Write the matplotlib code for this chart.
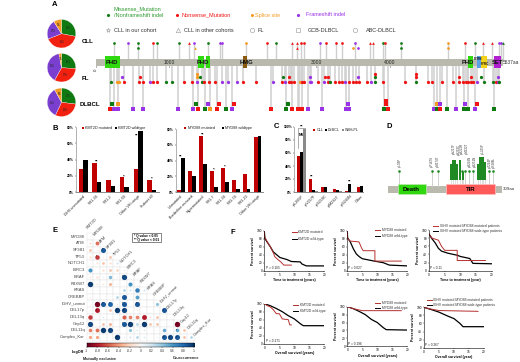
import numpy as np
import matplotlib
matplotlib.use('Agg')
import matplotlib.pyplot as plt
from matplotlib.patches import Rectangle

plt.rcParams['font.family'] = ['Liberation Sans', 'DejaVu Sans']

# ---------- data ----------
pie_names = ['CLL', 'FL', 'DLBCL']
pie_cll = [28, 41, 22, 9]
pie_fl = [26, 32, 39, 3]
pie_dlbcl = [27, 30, 35, 8]

cll_pos = [240, 431, 571, 780, 830, 1125, 1270, 1338, 1528, 1687, 1710, 2036, 2322, 2449, 2671, 2730, 2794,
           2830, 3043, 3134, 3270, 3351, 3524, 3723, 3769, 3900, 3927, 4150, 4794, 5020, 5156, 5270, 5383,
           5483, 5515, 5535]
cll_type = list('gpgrgg') + list('rpgppo') + list('rgrrrr') + list('prrrpr') + list('rgrgor') + list('grrppg')
cll_mark = list('oooooo') + list('^ooooo') + list('oo^^oo') + list('ooooo^') + list('^ooooo') + list('o^^oo^')
cll2_pos = [571, 1347, 2730, 3501, 3560, 4150, 4794]
cll2_type = list('gorop') + list('go')
cll2_mark = list('o^^oo') + list('oo')

fl_pos = [209, 290, 317, 385, 590, 635, 735, 771, 825, 957, 1039, 1193, 1306, 1379, 1438, 1469, 1537, 1619, 1710,
          1791, 1918, 2005, 2172, 2408, 2526, 2571, 2630, 2653, 2694, 2771, 2798, 2830, 2907, 2925, 3025, 3102,
          3156, 3188, 3256, 3311, 3342, 3388, 3447, 3492, 3537, 3583, 3692, 3737, 3796, 3900, 4204, 4354, 4513,
          4572, 4712, 4857, 4939, 4998, 5034, 5066, 5102, 5134, 5188, 5279, 5406, 5438, 5470, 5488]
fl_type = list('goorrr') + list('prrggrr') + list('pgrrrpp') + list('prrprpr') + \
          list('rrorrpp') + list('rprgrrr') + list('prrrrrp') + list('grrgrrr') + list('rrrrrrr') + list('pggrpg')
fl2_pos = [354, 599, 1379, 1415, 2549, 2630, 2907, 3116, 3156, 3569, 3796, 4354, 4939, 5102, 5238, 5470]
fl2_type = list('proggrprrpgrrrgp')
fl3_pos = [1379, 3796, 4354]
fl3_type = list('orr')

dl_pos = [190, 245, 295, 503, 639, 1116, 1315, 1383, 1483, 1546, 1646, 1773, 1855, 2385, 2585, 2671, 2744, 2767,
          2798, 2885, 3075, 3401, 3447, 3918, 3968, 4599, 4635, 4685, 4771, 4903, 5002, 5066, 5152, 5411]
dl_type = list('rppppppr') + list('gorgp') + list('rgrrrr') + list('pppp') + list('grpgr') + list('gpggpg')
dl2_pos = [213, 295, 1365, 1519, 1669, 1882, 2612, 3433, 3946, 4635, 4685, 5016, 5179]
dl2_type = list('gogprrgprop') + list('pr')
dl3_pos = [3946]
dl3_type = ['r']

domain_names = ['PHD', 'PHD', 'PHD', 'PHD', 'PHD', 'HMG', 'PHD', 'FYRN', 'FYRC', 'SET']
domain_start = [127, 222, 290, 1383, 1492, 2004, 5061, 5179, 5242, 5410]
domain_end = [214, 281, 327, 1469, 1551, 2058, 5134, 5233, 5324, 5510]

b1_cats = ['IGHV-unmutated', 'VH1-34', 'VH1-2', 'VH1-69', 'Other VH usage', 'Subset #2']
b1_mut = [29, 36, 15, 18, 29, 15]
b1_wt = [39, 12, 7, 6, 75, 2]
b1_sig = ['', '**', '', '*', '**', '*']

b2_cats = ['Unmutated', 'Borderline mutated', 'Hypermutated', 'VH1-7', 'VH1-34', 'VH3-74', 'VH3-23', 'Other VH usage']
b2_mut = [2, 27, 71, 27, 31, 15, 23, 70]
b2_wt = [43, 21, 36, 7, 13, 4, 4, 72]
b2_sig = ['**', '', '**', '*', '*', '', '', '']

c_cats = ['p.L265P', 'p.V217F', 'p.S219C', 'p.M232T', 'p.S243N', 'Other']
c_cll = [56, 20, 8, 5, 1, 8]
c_dlbcl = [62, 3, 8, 3, 13, 10]
c_wm = [97, 2, 0, 1, 0, 0]

d_single_pos = [31, 120, 135, 201, 210, 221, 232, 274, 284]
d_stack_pos = [171, 177, 182, 187, 196, 205, 245, 250, 255, 259, 264]
d_stack_n = [8, 10, 10, 8, 10, 4, 8, 12, 12, 12, 9]
d_label_pos = [31, 120, 135, 178, 193, 201, 213, 222, 235, 258, 276, 287]
d_labels = ['p.L93P', 'p.P147S', 'p.M174T', 'p.V217F', 'p.S219C', 'p.S222R', 'p.M232T', 'p.S243N',
            'p.S251N', 'p.L265P', 'p.T294P', 'p.R288L']

e_rows = ['MYD88', 'ATM', 'SF3B1', 'TP53', 'NOTCH1', 'BIRC3', 'BRAF', 'FBXW7', 'KRAS', 'CREBBP',
          'IGHV_unmut', 'DEL17p', 'DEL13q', 'Gap12', 'DEL11q', 'Complex_Kar']
e_cols = ['KMT2D', 'MYD88', 'ATM', 'SF3B1', 'TP53', 'NOTCH1', 'BIRC3', 'BRAF', 'FBXW7', 'KRAS', 'CREBBP',
          'IGHV_unmut', 'DEL17p', 'DEL13q', 'Gap12', 'DEL11q', 'Complex_Kar']
e_vals = [
    [0],
    [-.18, -.55],
    [-.3, -.1, .85],
    [-.2, -.7, -.1, -.3],
    [-.03, -.15, -.3, -.2, .2],
    [.6, 0, -.2, -.3, -.25, .1],
    [-.15, -.2, .1, .45, -.1, .9, 0],
    [.95, -.15, -.15, -.35, -.1, 0, .6, .02],
    [.05, .05, -.05, -.03, 0, .3, .2, .7, .2],
    [-.1, 0, 0, 0, .3, .85, 0, .55, 0, 0],
    [-.05, -.95, .85, .8, -.1, .85, 0, .85, 0, 0, .4],
    [-.1, -.8, 0, -.3, .95, .9, 0, -.1, 0, 0, .02, .85],
    [-.7, 0, .15, 0, 0, -.6, -.5, -.5, -.8, -.15, -.3, 0, .03],
    [.9, 0, -.3, -.35, 0, .85, .95, .3, .95, -.3, -.3, .05, .03, -.95],
    [-.5, -.55, .95, .9, -.1, 0, .4, .15, .15, 0, .05, .5, .05, .5, -.3],
    [-.4, -.4, 0, 0, .95, .1, .2, .3, .15, 0, .1, .85, .9, .85, -.3, .3],
]
e_sig_rows = [2, 3, 6, 7, 10, 10, 10, 10, 10, 11, 11, 11, 11, 13, 13, 13, 13, 13, 14, 14, 14, 15, 15, 15, 15]
e_sig_cols = [2, 1, 5, 0, 1, 2, 3, 5, 7, 1, 4, 5, 11, 0, 5, 6, 8, 13, 2, 3, 13, 4, 11, 12, 13]
e_sig_text = ['**', '*', '**', '**', '**', '**', '**', '**', '**', '*', '**', '*', '**',
              '**', '**', '**', '**', '**', '**', '**', '**', '**', '**', '**', '**']
e_bar_ticks = [-1, -.8, -.6, -.4, -.2, 0, .2, .4, .6, .8, 1]

km_titles = ['Time to treatment (years)', 'Time to treatment (years)', 'Time to treatment (year)',
             'Overall survival (years)', 'Overall survival (years)', 'Overall survival (year)']
km_p = ['P = 0.165', 'P = 0.027', 'P = 0.11', 'P = 0.171', 'P = 0.196', 'P = 0.267']
km_leg_a = ['KMT2D mutated', 'MYD88 mutated', 'IGHV mutated MYD88 mutated patients',
            'KMT2D mutated', 'MYD88 mutated', 'IGHV mutated MYD88 mutated patients']
km_leg_b = ['KMT2D wild-type', 'MYD88 wild-type', 'IGHV mutated MYD88 wide-type patients',
            'KMT2D wild-type', 'MYD88 wild-type', 'IGHV mutated MYD88 wide-type patients']
t1r = [0, .1, 1, 2, 3, 3.5, 4.5, 5.5, 6.5, 9]
s1r = [100, 85, 72, 60, 45, 35, 28, 22, 14, 14]
t1k = [0, .2, 2, 3, 5.2, 7.5, 9, 12, 12.5, 14, 20]
s1k = [100, 80, 60, 47, 33, 28, 23, 22, 17, 12, 12]
t2r = [0, .1, 1, 3.9, 4.8, 5.3, 9.2, 9.2, 18]
s2r = [100, 80, 74, 72, 56, 50, 50, 24, 24]
t2k = [0, .1, 1, 2, 3, 4, 5, 7, 9, 12, 14, 20]
s2k = [100, 82, 72, 55, 42, 35, 30, 27, 24, 20, 14, 12]
t3r = [0, 1, 3, 4, 5, 9, 9, 18]
s3r = [90, 80, 75, 60, 50, 50, 25, 25]
t3k = [0, 1, 2, 3, 4, 6, 9, 10, 13, 14, 20]
s3k = [90, 78, 68, 55, 48, 43, 38, 35, 30, 18, 17]
t4r = [0, 1, 2, 3, 4, 5, 6, 8, 8.5, 9]
s4r = [100, 95, 92, 85, 75, 75, 62, 60, 47, 47]
t4k = [0, 2, 4, 6, 8, 10, 12, 13, 20]
s4k = [100, 95, 88, 80, 70, 62, 50, 45, 45]
t5r = [0, 2, 5, 18]
s5r = [100, 95, 90, 90]
t5k = [0, 2, 4, 6, 8, 10, 12, 13, 20]
s5k = [100, 95, 88, 80, 68, 60, 47, 42, 41]
t6r = [0, 2, 5, 18]
s6r = [100, 96, 92, 90]
t6k = [0, 3, 5, 8, 10, 12, 13, 20]
s6k = [100, 93, 88, 78, 72, 60, 52, 52]

# ---------- layout ----------
W, H = 520, 362
fig = plt.figure(figsize=(W / 100, H / 100), dpi=100, facecolor='white')


def panel(x0, y0, x1, y1, **kw):
    return fig.add_axes([x0 / W, 1 - y1 / H, (x1 - x0) / W, (y1 - y0) / H], **kw)


ov = panel(0, 0, W, H, zorder=5)
ov.set_xlim(0, W)
ov.set_ylim(H, 0)
ov.axis('off')
ov.patch.set_alpha(0)


def txt(x, y, s, size=4, color='#222222', ha='left', va='center', **kw):
    ov.text(x, y, s, fontsize=size, color=color, ha=ha, va=va, **kw)


for (lx, ly, l) in [(55, 4, 'A'), (55, 128, 'B'), (276, 127, 'C'), (389, 127, 'D'), (55, 231, 'E'), (233, 233, 'F')]:
    txt(lx, ly, l, size=5.5, color='black', ha='center', fontweight='bold')

COL = {'g': '#0f7a12', 'r': '#f01414', 'o': '#f59a23', 'p': '#9a32e6'}

# ---------- panel A ----------
txt(114, 9.3, 'Missense_Mutation', 4.0, '#2e9a30')
txt(114, 15.7, '/Nonframeshift indel', 4.0, '#2e9a30')
txt(182, 15, 'Nonsense_Mutation', 4.0, '#f01414')
txt(255, 15, 'Splice site', 4.0, '#f59a23')
txt(306, 15, 'Frameshift indel', 4.0, '#9a32e6')
for x, c in [(108, 'g'), (177, 'r'), (251.7, 'o'), (298, 'p')]:
    ov.scatter([x], [15], s=5, color=COL[c], linewidths=0)
for x, lab, tx, m in [(108, 'CLL in our cohort', 114, '*'), (177.7, 'CLL in other cohorts', 184, '^'),
                      (252, 'FL', 257, 'o'), (298, 'GCB-DLBCL', 307.7, 's'), (354.7, 'ABC-DLBCL', 366, 'o')]:
    ov.scatter([x], [30], s=10, facecolor='white', edgecolor='#aaaaaa', linewidths=.5, marker=m)
    txt(tx, 30, lab, 4.0, '#333333')

PIE_COLORS = [COL['g'], '#f2200f', '#7b3fd0', '#f59a23']
for name, vals, cy, lx, ly in [('CLL', pie_cll, 33.7, 81.7, 41.7), ('FL', pie_fl, 67.7, 82, 78),
                               ('DLBCL', pie_dlbcl, 102.3, 80, 105)]:
    pax = panel(61.5 - 15, cy - 15, 61.5 + 15, cy + 15)
    pax.pie(vals, colors=PIE_COLORS, startangle=90, counterclock=False, radius=.95,
            autopct='%d%%', pctdistance=.62, textprops={'fontsize': 1.8, 'color': '#222222'},
            wedgeprops={'edgecolor': 'white', 'linewidth': .2})
    pax.set_xlim(-1, 1)
    pax.set_ylim(-1, 1)
    txt(lx, ly, name, 4.4, 'black', fontweight='bold')

SC = .0735
a = panel(0, 0, W, H, zorder=2)
a.set_xlim(-96 / SC, (W - 96) / SC)
a.set_ylim(H, 0)
a.axis('off')
a.patch.set_alpha(0)
BAR0, BAR1 = 58.5, 65.5
a.add_patch(Rectangle((0, BAR0), 5537, BAR1 - BAR0, facecolor='#b9baad', edgecolor='none', zorder=2))
DC = {'PHD': '#2fd80f', 'HMG': '#8a5a10', 'FYRN': '#5aa0e6', 'FYRC': '#f2d21a', 'SET': '#b01fd0'}
for n, s, e_ in zip(domain_names, domain_start, domain_end):
    a.add_patch(Rectangle((s, 55.5), e_ - s, 12.5, facecolor=DC[n], edgecolor='none', zorder=3))
for n, x, fs, y in [('PHD', 214, 4.2, 62), ('PHD', 1460, 4.2, 62), ('HMG', 2050, 4.2, 62), ('PHD', 5061, 4.2, 62),
                    ('FYRN', 5193, 2.2, 58.7), ('FYRC', 5288, 2.2, 63.7), ('SET', 5460, 4.2, 62)]:
    a.text(x, y, n, fontsize=fs, fontweight='bold', ha='center', va='center', color='#111111', zorder=4)
for k in range(0, 6):
    a.plot([k * 1000] * 2, [BAR1, BAR1 + 1.2], color='#555555', lw=.4, zorder=1)
for k in [1000, 3000, 4000]:
    a.text(k, 62, str(k), fontsize=3.6, ha='center', va='center', color='#222222', zorder=4)
a.text(-5, 69.5, '0', fontsize=3.2, ha='center', va='center', rotation=90, color='#222222')
a.text(5537, 62, '5537aa', fontsize=3.5, ha='left', va='center', color='#333333', zorder=4)


def lolli(pos, types, y0, y1, marker='o', s=5.5, stem=True):
    for p, t in zip(pos, types):
        if stem:
            a.plot([p, p], [y0, y1], color='#cfcfcf', lw=1.1, zorder=1)
        a.scatter([p], [y1], s=s, color=COL[t], marker=marker, linewidths=0, zorder=5)


for p, t, m in zip(cll_pos, cll_type, cll_mark):
    a.plot([p, p], [43.3, BAR0], color='#cfcfcf', lw=1.0, zorder=1)
    a.scatter([p], [43.3], s=3.8, color=COL[t], marker=m, linewidths=0, zorder=5)
for p, t, m in zip(cll2_pos, cll2_type, cll2_mark):
    a.scatter([p], [47.8], s=3.8, color=COL[t], marker=m, linewidths=0, zorder=5)
lolli(fl_pos, fl_type, BAR1, 81.7)
lolli(fl2_pos, fl2_type, BAR1, 77.3, stem=False)
lolli(fl3_pos, fl3_type, BAR1, 73.5, stem=False)
lolli(dl_pos, dl_type, BAR1, 108.5, marker='s', s=7)
lolli(dl2_pos, dl2_type, BAR1, 103.5, marker='s', s=7, stem=False)
lolli(dl3_pos, dl3_type, BAR1, 100.5, marker='s', s=7, stem=False)


# ---------- panel B, C ----------
def style_bar(ax, cats, yticks, fs=2.7):
    for s in ['top', 'right']:
        ax.spines[s].set_visible(False)
    ax.spines['left'].set_linewidth(.4)
    ax.spines['bottom'].set_linewidth(.6)
    ax.spines['left'].set_color('#777777')
    ax.spines['bottom'].set_color('#777777')
    ax.set_xticks(range(len(cats)))
    ax.set_xticklabels(cats, rotation=45, ha='right', rotation_mode='anchor', fontsize=fs, color='#222222')
    ax.set_yticks(yticks)
    ax.set_yticklabels(['%d%%' % v for v in yticks], fontsize=2.4, fontweight='bold')
    ax.tick_params(axis='both', length=.8, width=.3, pad=.8)


RED = '#c00000'
b1 = panel(76, 127.3, 159, 192)
x1 = np.arange(len(b1_cats))
b1.bar(x1 - .165, b1_mut, .33, color=RED)
b1.bar(x1 + .165, b1_wt, .33, color='black')
b1.set_xlim(-.53, 5.53)
b1.set_ylim(0, 80)
style_bar(b1, b1_cats, [0, 20, 40, 60, 80])
for i, s in enumerate(b1_sig):
    if s:
        if i == 4:
            b1.text(i - .1, 70, s, fontsize=3.2, ha='center', va='center', fontweight='bold')
        else:
            b1.text(i, b1_mut[i] + 1.5, s, fontsize=3.2, ha='center', va='center', fontweight='bold')

b2 = panel(176, 129.3, 263, 192)
x2 = np.arange(len(b2_cats))
b2.bar(x2 - .175, b2_mut, .33, color=RED)
b2.bar(x2 + .175, b2_wt, .33, color='black')
b2.set_xlim(-.45, 7.48)
b2.set_ylim(0, 80)
style_bar(b2, b2_cats, [0, 20, 40, 60, 80])
for i, s in enumerate(b2_sig):
    if s:
        b2.text(i, max(b2_mut[i], b2_wt[i]) + 2, s, fontsize=3.2, ha='center', va='center', fontweight='bold')

c = panel(294.3, 127, 363, 192)
x3 = np.arange(len(c_cats))
c.bar(x3 - .25, c_cll, .25, color=RED)
c.bar(x3, c_dlbcl, .25, color='black')
c.bar(x3 + .25, c_wm, .25, color='#8a8a8a')
c.set_xlim(-.62, 5.1)
c.set_ylim(0, 100)
style_bar(c, c_cats, [0, 20, 40, 60, 80, 100])
c.plot([-.3, -.3, .27], [68, 98, 98], color='#8a8a8a', lw=.5, clip_on=False)
c.text(-.03, 88, 'NS', fontsize=2.6, ha='center', va='center', fontweight='bold')
c.text(.03, 101, '**', fontsize=3.2, ha='center', va='center', fontweight='bold', clip_on=False)
c.text(0.8, 24, '**', fontsize=3.2, ha='center', va='center', fontweight='bold')
c.text(4.0, 16, '**', fontsize=3.2, ha='center', va='center', fontweight='bold')

for x, col, lab, tx in [(82.7, RED, 'KMT2D mutated', 84.7), (116, 'black', 'KMT2D wildtype', 117.7),
                        (185, RED, 'MYD88 mutated', 187.5), (223, 'black', 'MYD88 wildtype', 224.7)]:
    ov.scatter([x], [128], s=2, marker='s', color=col, linewidths=0)
    txt(tx, 128.2, lab, 2.7, '#222222')
for x, col, lab, tx in [(314.3, RED, 'CLL', 316.5), (326, 'black', 'DLBCL', 328), (343, '#8a8a8a', 'WM/LPL', 345)]:
    ov.scatter([x], [130], s=2, marker='s', color=col, linewidths=0)
    txt(tx, 130.2, lab, 2.7, '#222222')

# ---------- panel D ----------
PX = .368
d = panel(380, 120, 520, 200, zorder=2)
d.set_xlim((380 - 388) / PX, (520 - 388) / PX)
d.set_ylim(200, 120)
d.axis('off')
d.patch.set_alpha(0)
d.add_patch(Rectangle((0, 186), 309, 6.7, facecolor='#b9baad', edgecolor='none'))
d.add_patch(Rectangle((27, 184.3), 75, 9.7, facecolor='#2fd80f', edgecolor='#bfe8b0', lw=.5, zorder=3))
d.add_patch(Rectangle((157, 184.3), 135, 9.7, facecolor='#ff5a5a', edgecolor='#ffc0c0', lw=.5, zorder=3))
d.text(64, 189.4, 'Death', fontsize=4.4, fontweight='bold', ha='center', va='center', zorder=4)
d.text(224, 189.4, 'TIR', fontsize=4.4, fontweight='bold', ha='center', va='center', zorder=4)
d.text(313, 189.4, '309aa', fontsize=3.2, ha='left', va='center', color='#333333')
GREEN = '#1f8a23'
for p in d_single_pos:
    y = 171.3
    d.plot([p, p], [y, 186], color='#d0d0d0', lw=.7, zorder=1)
    d.scatter([p], [y], s=3.5, color=GREEN, linewidths=0, zorder=5)
for p, n in zip(d_stack_pos, d_stack_n):
    ys = [178.5 - 1.9 * k for k in range(n)]
    d.plot([p, p], [ys[-1], 186], color='#d0d0d0', lw=.5, zorder=1)
    d.scatter([p] * n, ys, s=2.2, color=GREEN, marker='s', linewidths=0, zorder=5)
label_bottom = [167, 167, 167, 153.5, 155, 153.5, 153.5, 167, 167, 153.5, 168, 168]
for p, l, b in zip(d_label_pos, d_labels, label_bottom):
    d.text(p, b, l, fontsize=2.1, rotation=90, ha='center', va='bottom', color='#333333')

# ---------- panel E ----------
CS = 6.7
e = panel(80, 226, 210, 345, zorder=2)
e.set_xlim((80 - 90) / CS, (210 - 90) / CS)
e.set_ylim((345 - 236.7) / CS, (226 - 236.7) / CS)
e.axis('off')
e.patch.set_alpha(0)
cmap = plt.get_cmap('RdBu')
for r, row in enumerate(e_vals):
    for k, v in enumerate(row):
        e.add_patch(Rectangle((k - .5, r - .5), 1, 1, facecolor='white', edgecolor='#e4e4e4', lw=.35, zorder=1))
        if v != 0:
            e.scatter([k], [r], s=(4.0 * abs(v) ** .6) ** 2, color=cmap((v + 1) / 2), linewidths=0, zorder=2)
    e.text(-.75, r, e_rows[r], fontsize=3.0, color='#444444', ha='right', va='center')
for k, n in enumerate(e_cols):
    e.text(k - .2, k - 1.0, n, fontsize=2.9, rotation=45, ha='left', va='bottom',
           color='#444444', rotation_mode='anchor')
for r, k, t in zip(e_sig_rows, e_sig_cols, e_sig_text):
    e.text(k, r, t, fontsize=2.2, color='black', ha='center', va='center', zorder=3)

ov.add_patch(Rectangle((132, 233), 28.7, 9.3, facecolor='white', edgecolor='#555555', lw=.5))
txt(133.5, 235.7, '* Q value < 0.05', 2.3, 'black', fontweight='bold')
txt(133.5, 239.6, '** Q value < 0.01', 2.3, 'black', fontweight='bold')

cb = panel(86.7, 342.7, 194, 347.2)
cb.imshow(np.linspace(-1, 1, 256)[None, :], cmap='RdBu', aspect='auto', extent=[-1, 1, 0, 1], vmin=-1, vmax=1)
cb.set_yticks([])
cb.set_xticks(e_bar_ticks)
cb.set_xticklabels(['%g' % v for v in e_bar_ticks], fontsize=2.4, color='#333333')
cb.tick_params(axis='x', length=.8, width=.3, pad=.8)
for s in cb.spines.values():
    s.set_linewidth(.3)
txt(84, 352.3, 'LogOR', 2.7, 'black', ha='right', fontweight='bold')
txt(100, 358.8, 'Mutually exclusive', 2.7, '#222222', ha='center', fontweight='bold')
txt(186, 358, 'Co-occurrence', 2.7, '#222222', ha='center', fontweight='bold')

# ---------- panel F ----------
km_boxes = [(264.3, 230.7, 324.3, 270.7), (347.3, 230.7, 407.3, 270.7), (429, 230, 491.7, 270.7),
            (264.3, 303.7, 324.3, 343.7), (347.3, 306.7, 407.3, 346.3), (424, 307.3, 484, 347.7)]
km_curves = [(t1r, s1r, t1k, s1k), (t2r, s2r, t2k, s2k), (t3r, s3r, t3k, s3k),
             (t4r, s4r, t4k, s4k), (t5r, s5r, t5k, s5k), (t6r, s6r, t6k, s6k)]
km_leg_pos = [(292, 298.3, 232.3, 238.7), (375, 381.7, 230, 236.3), (432.7, 439.7, 226, 231.3),
              (292.7, 300, 305, 310.7), (375, 381.7, 303, 308), (426.7, 433.3, 300.3, 305.3)]
for i in range(6):
    ax = panel(*km_boxes[i])
    tr, sr, tk, sk = km_curves[i]
    ax.plot(tk, sk, color='black', lw=.9)
    ax.plot(tr, sr, color='#b5302f', lw=.7)
    ax.set_xlim(0, 20)
    ax.set_ylim(0, 100)
    ax.set_xticks([0, 5, 10, 15, 20])
    ax.set_yticks([0, 20, 40, 60, 80, 100])
    ax.tick_params(labelsize=2.3, length=.8, width=.3, pad=.6)
    for s in ['top', 'right']:
        ax.spines[s].set_visible(False)
    for s in ['left', 'bottom']:
        ax.spines[s].set_linewidth(.4)
    ax.set_xlabel(km_titles[i], fontsize=2.5, fontweight='bold', labelpad=1.2)
    ax.set_ylabel('Percent survival', fontsize=2.5, fontweight='bold', labelpad=1.5)
    ax.text(.4, 7, km_p[i], fontsize=2.3, color='#222222', va='center')
    lx, tx, y1, y2 = km_leg_pos[i]
    ov.plot([lx, lx + 5], [y1, y1], color='#b5302f', lw=.7)
    ov.plot([lx, lx + 5], [y2, y2], color='black', lw=.7)
    txt(tx, y1, km_leg_a[i], 2.4, '#333333')
    txt(tx, y2, km_leg_b[i], 2.4, '#333333')

fig.savefig('out.png', dpi=100)
